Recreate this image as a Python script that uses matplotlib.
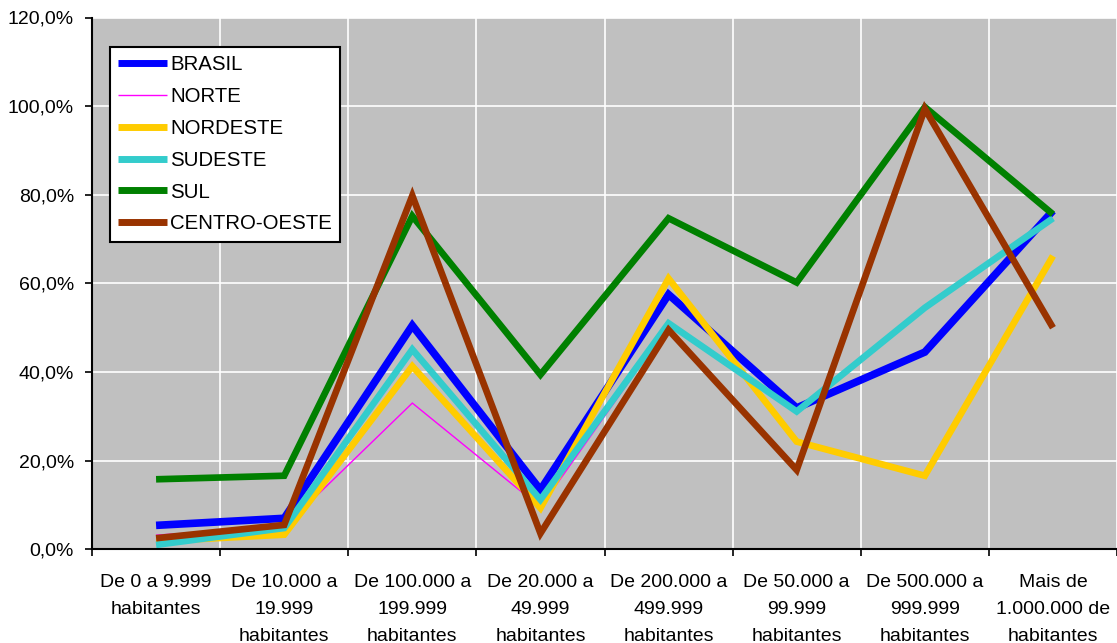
import matplotlib
matplotlib.use("Agg")
import matplotlib.pyplot as plt
from matplotlib.ticker import FixedLocator, FuncFormatter, NullFormatter

plt.rcParams["font.family"] = ["Liberation Sans", "DejaVu Sans"]

categories = [
    "De 0 a 9.999\nhabitantes",
    "De 10.000 a\n19.999\nhabitantes",
    "De 100.000 a\n199.999\nhabitantes",
    "De 20.000 a\n49.999\nhabitantes",
    "De 200.000 a\n499.999\nhabitantes",
    "De 50.000 a\n99.999\nhabitantes",
    "De 500.000 a\n999.999\nhabitantes",
    "Mais de\n1.000.000 de\nhabitantes",
]

brasil = [5.4, 7.0, 50.5, 13.4, 57.5, 31.9, 44.5, 76.4]
norte = [3.2, 5.0, 33.0, 9.5, 50.5, 31.0, 54.5, 74.7]
nordeste = [1.8, 3.3, 41.3, 9.3, 61.1, 24.3, 16.6, 66.2]
sudeste = [1.0, 4.8, 45.1, 11.2, 51.0, 31.1, 54.5, 74.7]
sul = [15.8, 16.6, 75.2, 39.4, 74.7, 60.2, 99.8, 75.6]
centro_oeste = [2.5, 5.5, 79.8, 3.6, 49.5, 17.9, 99.4, 50.0]

series = [
    ("BRASIL", brasil, "#0000FF", 5.5),
    ("NORTE", norte, "#FF00FF", 1.0),
    ("NORDESTE", nordeste, "#FFCC00", 4.8),
    ("SUDESTE", sudeste, "#33CCCC", 4.8),
    ("SUL", sul, "#008000", 4.8),
    ("CENTRO-OESTE", centro_oeste, "#993300", 4.8),
]

fig = plt.figure(figsize=(11.17, 6.43), dpi=100)
ax = fig.add_axes([92 / 1117, 1 - 549.3 / 643, 1 - 92 / 1117, (549.3 - 17.5) / 643])
ax.set_facecolor("#C0C0C0")

x = list(range(len(categories)))
for name, vals, color, lw in series:
    ax.plot(x, vals, color=color, linewidth=lw, label=name,
            solid_joinstyle="miter", solid_capstyle="butt")

ax.set_xlim(-0.5, len(categories) - 0.5)
ax.set_ylim(0, 120)

# category boundaries carry the tick marks and grid
ax.xaxis.set_major_locator(FixedLocator([i + 0.5 for i in range(-1, len(categories))]))
ax.xaxis.set_major_formatter(NullFormatter())
ax.tick_params(axis="x", which="major", direction="out", length=5, width=1.2, color="black")

# category names centred under each category, with wider line spacing
for xi, label in zip(x, categories):
    ax.text(xi, -0.0465, label, transform=ax.get_xaxis_transform(),
            ha="center", va="top", fontsize=14, linespacing=1.75,
            multialignment="center", clip_on=False)

ax.set_yticks(range(0, 121, 20))
ax.yaxis.set_major_formatter(FuncFormatter(lambda v, p: f"{v:.1f}%".replace(".", ",")))
ax.tick_params(axis="y", direction="out", length=5, width=1.2, color="black", pad=8, labelsize=14)

ax.grid(True, which="major", color="white", linewidth=1.2)
ax.set_axisbelow(True)

for side in ("top", "right"):
    ax.spines[side].set_visible(False)
for side in ("left", "bottom"):
    ax.spines[side].set_color("black")
    ax.spines[side].set_linewidth(1.5)

leg = ax.legend(loc="upper left", bbox_to_anchor=(110 / 1117, 1 - 47 / 643),
                bbox_transform=fig.transFigure, borderaxespad=0, frameon=True,
                fancybox=False, shadow=False, fontsize=14.7, handlelength=2.4,
                handletextpad=0.15, labelspacing=0.63, borderpad=0.4)
leg.get_frame().set_edgecolor("black")
leg.get_frame().set_linewidth(1.5)
leg.get_frame().set_facecolor("white")
leg.get_frame().set_alpha(1)
for line in leg.get_lines():
    if line.get_linewidth() > 2:
        line.set_linewidth(5)

fig.savefig("out.png", dpi=100)
